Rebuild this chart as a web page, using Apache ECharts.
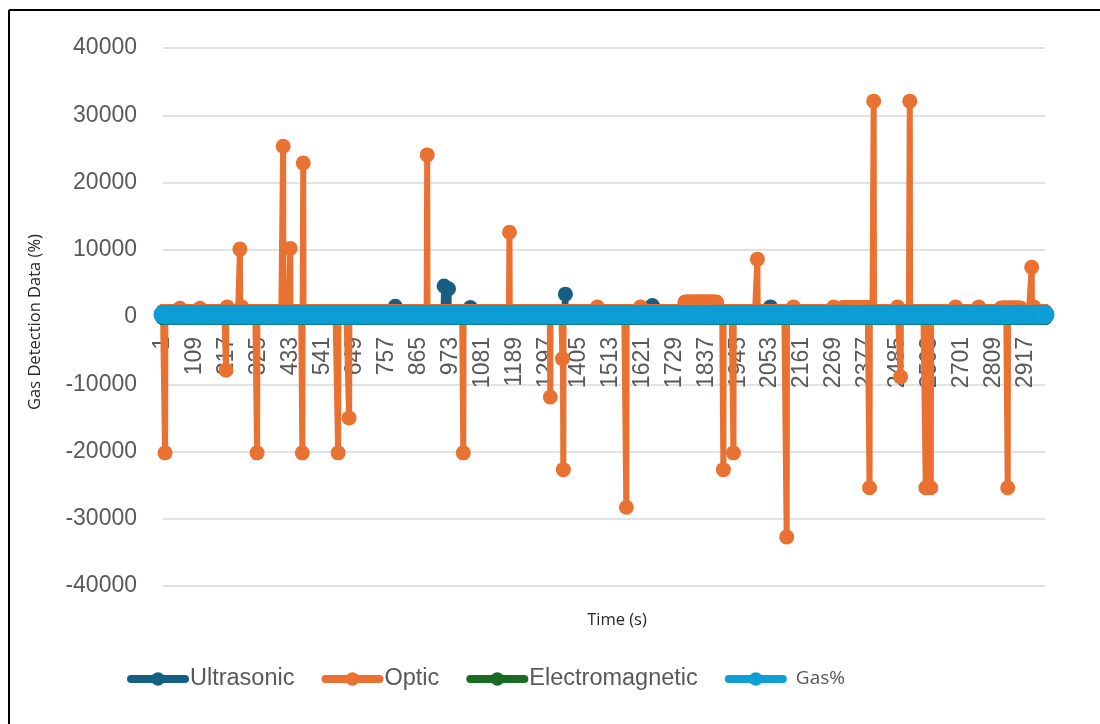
<!DOCTYPE html>
<html>
<head>
<meta charset="utf-8">
<title>Gas Detection Data</title>
<script src="https://cdn.jsdelivr.net/npm/echarts@6/dist/echarts.min.js"></script>
<style>
  html, body { margin: 0; padding: 0; background: #fff; overflow: hidden; }
  #chart { width: 1100px; height: 724px; }
</style>
</head>
<body>
<div id="chart"></div>
<script>
// number of time samples (1 .. N)
const N = 2982
const categories = []
for (let i = 1; i <= N; i++) categories.push(String(i))

const seriesNames = ['Ultrasonic', 'Optic', 'Electromagnetic', 'Gas%']
const yTicks = [-40000, -30000, -20000, -10000, 0, 10000, 20000, 30000, 40000]

// resting level of each series
const ultrasonicBase = 300
const opticBase = 800
const electromagneticBase = 0
const gasBase = 350

// [sample, value] readings that leave the resting level
const ultrasonicPeaks = [
  [786, 1600], [951, 4600], [966, 4200], [1040, 1400],
  [1361, 3400], [1655, 1700], [2054, 1500]
]
const opticPeaks = [
  [8, -20200], [58, 1300], [126, 1300], [214, -7900], [218, 1500],
  [261, 10100], [267, 1500], [319, -20200], [407, 25400], [431, 10200],
  [472, -20200], [475, 22900], [593, -20200], [630, -15000], [894, 24100],
  [1016, -20200], [1172, 12600], [1310, -11900], [1351, -6200], [1354, -22700],
  [1469, 1500], [1567, -28300], [1615, 1500], [1895, -22700], [1929, -20200],
  [2010, 8600], [2109, -32700], [2132, 1500], [2268, 1500], [2389, -25400],
  [2403, 32100], [2484, 1500], [2494, -8900], [2525, 32100], [2579, -25400],
  [2596, -25400], [2680, 1500], [2758, 1500], [2856, -25400], [2944, 1500],
  [2937, 7400]
]
// [from, to, value] stretches that sit at a raised level
const opticPlateaus = [
  [1765, 1872, 2200], [2301, 2382, 1400], [2833, 2900, 1300]
]
const electromagneticPeaks = []
const gasPeaks = []

function buildSeries(base, peaks, plateaus) {
  const arr = new Array(N).fill(base)
  ;(plateaus || []).forEach(p => {
    for (let i = p[0]; i <= p[1]; i++) arr[i - 1] = p[2]
  })
  peaks.forEach(p => { arr[p[0] - 1] = p[1] })
  return arr
}

const ultrasonicData = buildSeries(ultrasonicBase, ultrasonicPeaks)
const opticData = buildSeries(opticBase, opticPeaks, opticPlateaus)
const electromagneticData = buildSeries(electromagneticBase, electromagneticPeaks)
const gasData = buildSeries(gasBase, gasPeaks)

const colors = ['#156082', '#E97132', '#196B24', '#0F9ED5']
const allData = [ultrasonicData, opticData, electromagneticData, gasData]

const myChart = echarts.init(document.getElementById('chart'))

function lineSeries(idx, size) {
  return {
    name: seriesNames[idx],
    type: 'line',
    data: allData[idx],
    symbol: 'circle',
    symbolSize: size,
    showAllSymbol: true,
    sampling: null,
    z: 2 + idx,
    lineStyle: { color: colors[idx], width: 6 },
    itemStyle: { color: colors[idx], borderWidth: 0 },
    emphasis: { disabled: true }
  }
}

// plot area: 48 .. 586 px tall, value 0 sits at the middle
const gridTop = 48
const gridBottom = 138
const plotHeight = 724 - gridTop - gridBottom

myChart.setOption({
  animation: false,
  color: colors,
  textStyle: { fontFamily: 'Liberation Sans, Arial, sans-serif' },
  grid: {
    left: 163,
    right: 55,
    top: gridTop,
    bottom: gridBottom,
    containLabel: false,
    outerBoundsMode: 'none'
  },
  legend: {
    left: 122,
    top: 662,
    itemWidth: 54,
    itemHeight: 17,
    itemGap: 27,
    lineStyle: { width: 8, cap: 'round' },
    textStyle: { fontSize: 23.5, color: '#595959' },
    data: [
      { name: 'Ultrasonic' },
      { name: 'Optic' },
      { name: 'Electromagnetic' },
      { name: 'Gas%', textStyle: { fontSize: 19, fontFamily: 'Open Sans', color: '#595959', padding: [0, 0, 0, 8] } }
    ]
  },
  xAxis: {
    type: 'category',
    data: categories,
    boundaryGap: false,
    position: 'bottom',
    // axis crosses the value axis at 0
    offset: -plotHeight / 2,
    axisLine: { show: true, onZero: false, lineStyle: { color: '#d9d9d9', width: 1.5 } },
    axisTick: { show: false },
    splitLine: { show: false },
    axisLabel: {
      interval: 107,
      rotate: 90,
      margin: 20,
      fontSize: 23,
      color: '#595959'
    }
  },
  yAxis: {
    type: 'value',
    min: yTicks[0],
    max: yTicks[yTicks.length - 1],
    interval: 10000,
    axisLine: { show: false },
    axisTick: { show: false },
    axisLabel: {
      fontSize: 23,
      color: '#595959',
      margin: 26,
      formatter: v => String(v)
    },
    splitLine: { lineStyle: { color: '#d9d9d9', width: 1.5 } }
  },
  graphic: [
    {
      type: 'line',
      shape: { x1: 9, y1: 10, x2: 1100, y2: 10 },
      style: { stroke: '#000', lineWidth: 2 },
      silent: true
    },
    {
      type: 'line',
      shape: { x1: 9, y1: 10, x2: 9, y2: 724 },
      style: { stroke: '#000', lineWidth: 2 },
      silent: true
    },
    {
      type: 'text',
      x: 35,
      y: 322,
      rotation: Math.PI / 2,
      style: {
        text: 'Gas Detection Data (%)',
        fontSize: 16.5,
        fontFamily: 'Open Sans',
        fill: '#262626',
        align: 'center',
        verticalAlign: 'middle'
      }
    },
    {
      type: 'text',
      x: 617,
      y: 620,
      style: {
        text: 'Time (s)',
        fontSize: 16.5,
        fontFamily: 'Open Sans',
        fill: '#262626',
        align: 'center',
        verticalAlign: 'middle'
      }
    }
  ],
  series: [
    lineSeries(0, 15),
    lineSeries(1, 15),
    lineSeries(2, 16),
    lineSeries(3, 19)
  ]
})
</script>
</body>
</html>
